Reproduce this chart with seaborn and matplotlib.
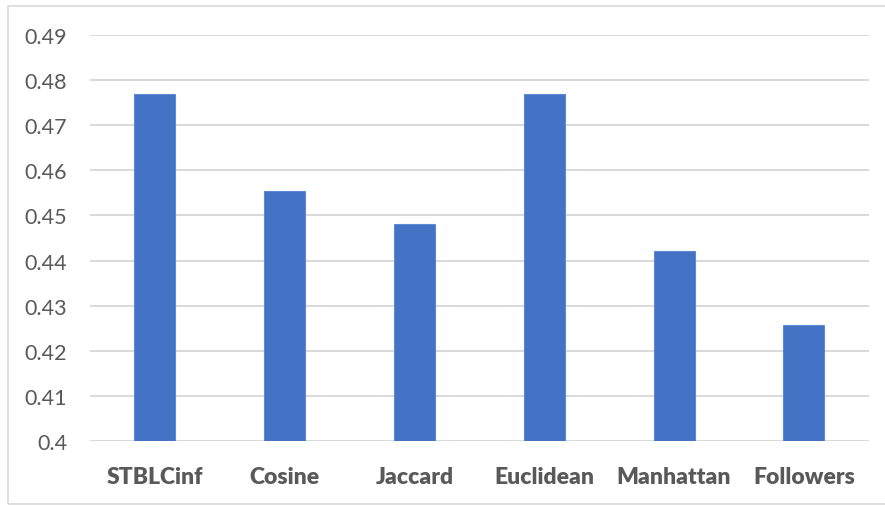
import pandas as pd
import seaborn as sns
import matplotlib.pyplot as plt
from matplotlib.patches import Rectangle

# Data
methods = ['STBLCinf', 'Cosine', 'Jaccard', 'Euclidean', 'Manhattan', 'Followers']
scores = [0.477, 0.4555, 0.4481, 0.477, 0.4421, 0.4257]
yticks = [0.4, 0.41, 0.42, 0.43, 0.44, 0.45, 0.46, 0.47, 0.48, 0.49]
ytick_labels = ['0.4', '0.41', '0.42', '0.43', '0.44', '0.45', '0.46', '0.47', '0.48', '0.49']

df = pd.DataFrame({'method': methods, 'score': scores})

sns.set_style('white')
plt.rcParams['font.family'] = ['Lato', 'DejaVu Sans']

fig = plt.figure(figsize=(8.85, 5.06), dpi=100)
ax = fig.add_axes([0.1017, 0.1265, 0.880, 0.8024])

# Chart area frame (cropped on the right in the original)
fig.patches.append(Rectangle((8 / 885, 1 / 506), 890 / 885, 498 / 506, transform=fig.transFigure,
                             fill=False, edgecolor='#d9d9d9', linewidth=1.2))

ax.yaxis.grid(True, color='#d9d9d9', linewidth=1.4, zorder=0)
ax.set_axisbelow(True)

sns.barplot(data=df, x='method', y='score', color='#4472C4', width=0.315,
            edgecolor='#5b8bd6', linewidth=0.8, saturation=1, ax=ax, zorder=3)

ax.set_ylim(0.4, 0.49)
ax.set_xlim(-0.5, 5.5)
ax.set_yticks(yticks)
ax.set_yticklabels(ytick_labels)
ax.set_xlabel('')
ax.set_ylabel('')
sns.despine(ax=ax, left=True, bottom=True)

ax.tick_params(axis='y', length=0, pad=16.5, labelsize=15.5, labelcolor='#595959')
ax.tick_params(axis='x', length=0, pad=18, labelsize=16.5, labelcolor='#595959')
for lbl in ax.get_xticklabels():
    lbl.set_fontweight('heavy')

fig.savefig('out.png', dpi=100)
